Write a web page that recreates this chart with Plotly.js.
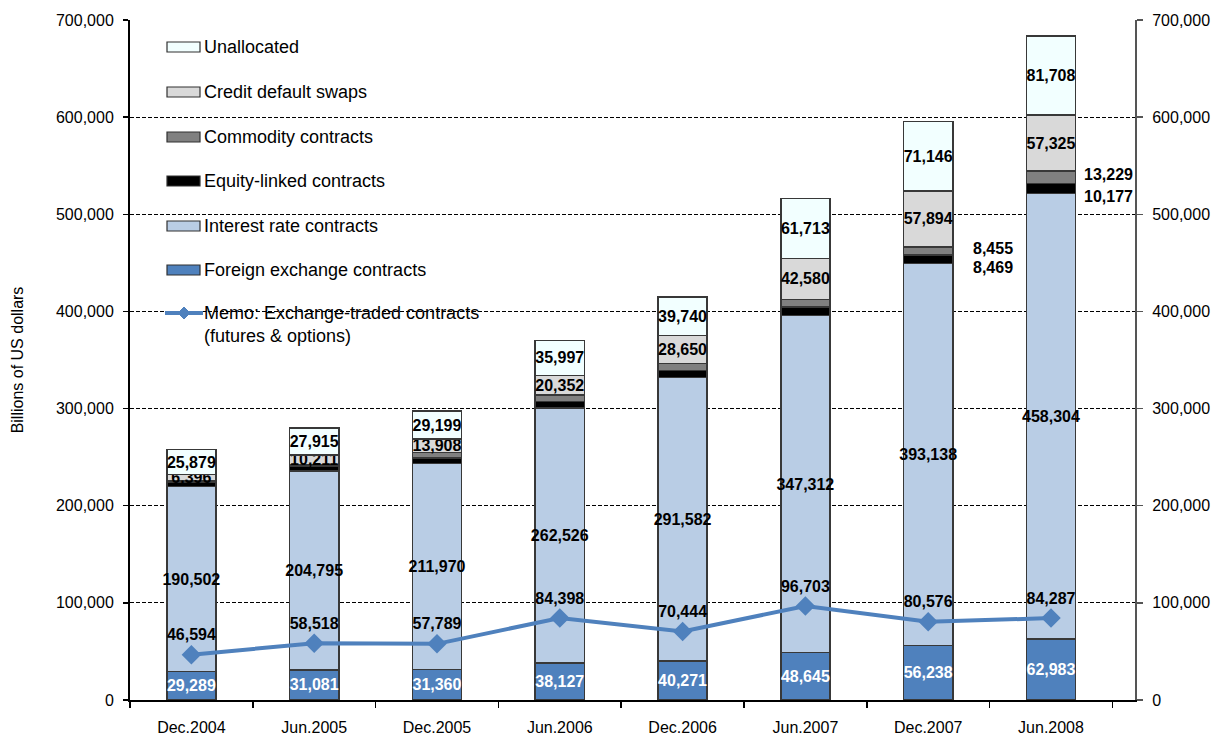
<!DOCTYPE html>
<html>
<head>
<meta charset="utf-8">
<script src="https://cdn.plot.ly/plotly-3.0.1.min.js"></script>
<style>html,body{margin:0;padding:0;background:#fff;}#chart{width:1213px;height:735px;}</style>
</head>
<body>
<div id="chart"></div>
<script>
const categories = ['Dec.2004','Jun.2005','Dec.2005','Jun.2006','Dec.2006','Jun.2007','Dec.2007','Jun.2008'];
const fx          = [29289, 31081, 31360, 38127, 40271, 48645, 56238, 62983];
const ir          = [190502, 204795, 211970, 262526, 291582, 347312, 393138, 458304];
const equity      = [4385, 4551, 5793, 6782, 7488, 8590, 8469, 10177];
const commodity   = [1443, 1693, 5434, 6394, 7115, 7567, 8455, 13229];
const cds         = [6396, 10211, 13908, 20352, 28650, 42580, 57894, 57325];
const unallocated = [25879, 27915, 29199, 35997, 39740, 61713, 71146, 81708];
const memo        = [46594, 58518, 57789, 84398, 70444, 96703, 80576, 84287];
const yTicks      = [0, 100000, 200000, 300000, 400000, 500000, 600000, 700000];

const FONT = '"Liberation Sans", Arial, sans-serif';
const fmt = v => v.toLocaleString('en-US');
const lineCol = '#4F81BD';
const edge = {color: '#383838', width: 1.5};

function barTrace(name, vals, color, showText, textColor) {
  return {
    type: 'bar', name: name, x: categories, y: vals,
    marker: {color: color, line: edge},
    width: 0.4,
    text: showText ? vals.map(fmt) : vals.map(() => ''),
    textposition: 'inside', insidetextanchor: 'middle',
    textangle: 0,
    constraintext: 'none',
    textfont: {family: FONT, size: 16, color: textColor, weight: 'bold'},
    hoverinfo: 'skip', showlegend: false
  };
}

const traces = [
  barTrace('Foreign exchange contracts', fx, '#4F81BD', true, '#ffffff'),
  barTrace('Interest rate contracts', ir, '#B9CDE5', true, '#000000'),
  barTrace('Equity-linked contracts', equity, '#000000', false, '#000000'),
  barTrace('Commodity contracts', commodity, '#808080', false, '#000000'),
  barTrace('Credit default swaps', cds, '#D9D9D9', true, '#000000'),
  barTrace('Unallocated', unallocated, '#F2FFFF', true, '#000000'),
  {
    type: 'scatter', mode: 'lines+markers+text', name: 'Memo: Exchange-traded contracts (futures & options)',
    x: categories, y: memo,
    line: {color: lineCol, width: 4},
    marker: {symbol: 'diamond', size: 15, color: lineCol},
    text: memo.map(fmt), textposition: 'top center',
    textfont: {family: FONT, size: 16, color: '#000', weight: 'bold'},
    hoverinfo: 'skip', showlegend: false, cliponaxis: false
  },
  {
    type: 'scatter', mode: 'lines', x: categories, y: memo, yaxis: 'y2',
    line: {width: 0, color: 'rgba(0,0,0,0)'}, hoverinfo: 'skip', showlegend: false
  }
];

// Plot area in pixels (for the hand-drawn legend)
const PL = 130, PR = 1135, PT = 20, PB = 700;
const px = v => (v - PL) / (PR - PL);
const py = v => (PB - v) / (PB - PT);

const legendItems = [
  ['Unallocated', '#F2FFFF', 47],
  ['Credit default swaps', '#D9D9D9', 92],
  ['Commodity contracts', '#808080', 137],
  ['Equity-linked contracts', '#000000', 181],
  ['Interest rate contracts', '#B9CDE5', 226],
  ['Foreign exchange contracts', '#4F81BD', 270]
];

const shapes = [];
const annotations = [];
legendItems.forEach(([label, col, yc]) => {
  shapes.push({type: 'rect', xref: 'paper', yref: 'paper',
    x0: px(167), x1: px(200), y0: py(yc + 5), y1: py(yc - 5),
    fillcolor: col, line: {color: '#303030', width: 1.2}});
  annotations.push({xref: 'paper', yref: 'paper', x: px(202), y: py(yc),
    xanchor: 'left', yanchor: 'middle', showarrow: false, text: label,
    font: {family: FONT, size: 18, color: '#000'}});
});
// memo legend entry
shapes.push({type: 'line', xref: 'paper', yref: 'paper', x0: px(165), x1: px(203), y0: py(313), y1: py(313),
  line: {color: lineCol, width: 4}});
shapes.push({type: 'path', xref: 'paper', yref: 'paper',
  path: `M ${px(184)} ${py(307)} L ${px(190)} ${py(313)} L ${px(184)} ${py(319)} L ${px(178)} ${py(313)} Z`,
  fillcolor: lineCol, line: {color: lineCol, width: 1}});
annotations.push({xref: 'paper', yref: 'paper', x: px(202), y: py(324.5),
  xanchor: 'left', yanchor: 'middle', align: 'left', showarrow: false,
  text: 'Memo: Exchange-traded contracts<br>(futures & options)',
  font: {family: FONT, size: 18, color: '#000'}});

// equity / commodity labels for the last two periods, beside the bars
[[6, 43], [7, 31]].forEach(([i, shift]) => {
  const base = fx[i] + ir[i];
  const eqMid = base + equity[i] / 2;
  const coMid = base + equity[i] + commodity[i] / 2;
  annotations.push({x: categories[i], y: coMid, xref: 'x', yref: 'y', xanchor: 'left', yanchor: 'middle',
    xshift: shift, yshift: 3, showarrow: false, text: fmt(commodity[i]),
    bgcolor: '#ffffff', borderpad: 1,
    font: {family: FONT, size: 16, color: '#000', weight: 'bold'}});
  annotations.push({x: categories[i], y: eqMid, xref: 'x', yref: 'y', xanchor: 'left', yanchor: 'middle',
    xshift: shift, yshift: -8, showarrow: false, text: fmt(equity[i]),
    bgcolor: '#ffffff', borderpad: 1,
    font: {family: FONT, size: 16, color: '#000', weight: 'bold'}});
});

const axisFont = {family: FONT, size: 16, color: '#000'};
const layout = {
  width: 1213, height: 735,
  margin: {l: PL, r: 1213 - PR, t: PT, b: 735 - PB},
  paper_bgcolor: '#fff', plot_bgcolor: '#fff',
  barmode: 'stack', bargap: 0.6,
  showlegend: false,
  font: {family: FONT, color: '#000'},
  xaxis: {
    type: 'category', categoryorder: 'array', categoryarray: categories,
    showline: true, linecolor: '#000', linewidth: 2,
    ticks: 'outside', tickson: 'boundaries', ticklen: 6, tickcolor: '#000', tickwidth: 1.5,
    tickfont: axisFont, ticklabelstandoff: 12, showgrid: false, zeroline: false, fixedrange: true
  },
  yaxis: {
    range: [0, 700000], tickvals: yTicks, ticktext: yTicks.map(fmt),
    showline: true, linecolor: '#000', linewidth: 2,
    ticks: 'outside', ticklen: 5, tickcolor: '#000', tickwidth: 1.5,
    tickfont: axisFont, ticklabelstandoff: 6,
    showgrid: true, gridcolor: '#000', gridwidth: 1, griddash: '4px,2px',
    zeroline: false, fixedrange: true,
    title: {text: 'Billions of US dollars', font: {family: FONT, size: 16, color: '#000'}, standoff: 28}
  },
  yaxis2: {
    overlaying: 'y', side: 'right', range: [0, 700000], tickvals: yTicks, ticktext: yTicks.map(fmt),
    showline: true, linecolor: '#555', linewidth: 2,
    ticks: 'outside', ticklen: 6, tickcolor: '#555', tickwidth: 1.5,
    tickfont: axisFont, ticklabelstandoff: 6,
    showgrid: false, zeroline: false, fixedrange: true
  },
  shapes: shapes,
  annotations: annotations
};

Plotly.newPlot('chart', traces, layout, {staticPlot: true, displayModeBar: false});
</script>
</body>
</html>
